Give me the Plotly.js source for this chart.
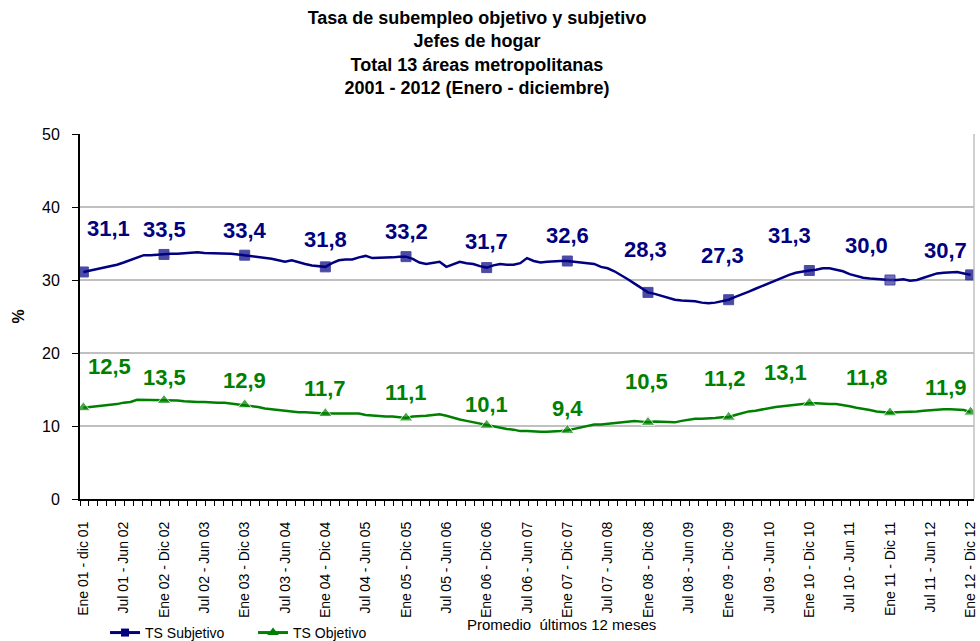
<!DOCTYPE html>
<html>
<head>
<meta charset="utf-8">
<script src="https://cdn.plot.ly/plotly-3.0.1.min.js"></script>
<style>html,body{margin:0;padding:0;background:#fff;}#chart{width:980px;height:641px;}</style>
</head>
<body>
<div id="chart"></div>
<script>
// Promedio últimos 12 meses, monthly, Ene01-dic01 ... Ene12-Dic12 (133 points)
const subjetivo = [
31.1,31.3,31.5,31.7,31.8,32.1,32.4,32.7,33.1,33.4,33.4,33.5,
33.5,33.6,33.6,33.7,33.7,33.8,33.7,33.7,33.6,33.7,33.6,33.5,
33.4,33.3,33.2,33.0,32.9,32.7,32.5,32.7,32.4,32.2,32.0,31.9,
31.8,32.3,32.7,32.8,32.8,33.1,33.3,33.0,33.0,33.0,33.1,33.2,
33.2,32.9,32.4,32.2,32.4,32.5,31.8,32.2,32.5,32.3,32.2,31.9,
31.7,32.0,32.2,32.1,32.1,32.3,33.0,32.6,32.4,32.5,32.6,32.6,
32.6,32.5,32.5,32.3,32.2,31.8,31.6,31.2,30.7,30.1,29.5,28.9,
28.3,28.1,27.8,27.5,27.3,27.2,27.2,27.1,26.9,26.8,26.9,27.1,
27.3,27.7,28.0,28.4,28.8,29.2,29.6,29.9,30.3,30.7,31.0,31.2,
31.3,31.4,31.6,31.6,31.4,31.2,30.8,30.5,30.3,30.2,30.1,30.0,
30.0,30.0,30.1,29.9,30.0,30.3,30.6,30.9,31.0,31.0,31.1,30.9,
30.7];
const objetivo = [
12.5,12.6,12.6,12.7,12.9,13.0,13.2,13.3,13.6,13.6,13.6,13.5,
13.5,13.6,13.5,13.4,13.3,13.3,13.3,13.2,13.2,13.2,13.1,13.0,
12.9,12.7,12.6,12.4,12.3,12.1,12.0,12.0,11.9,11.9,11.8,11.8,
11.7,11.7,11.7,11.6,11.6,11.7,11.5,11.4,11.4,11.3,11.3,11.2,
11.1,11.3,11.3,11.4,11.5,11.6,11.4,11.1,10.9,10.7,10.5,10.3,
10.1,9.9,9.8,9.6,9.5,9.3,9.3,9.2,9.2,9.2,9.2,9.3,
9.4,9.6,9.9,10.1,10.2,10.2,10.3,10.4,10.5,10.6,10.7,10.6,
10.5,10.6,10.6,10.6,10.5,10.7,10.9,11.0,11.0,11.0,11.1,11.2,
11.2,11.5,11.8,12.0,12.1,12.3,12.5,12.6,12.7,12.8,13.0,13.1,
13.1,13.1,13.0,13.0,13.0,12.9,12.7,12.5,12.4,12.2,12.0,11.9,
11.8,11.9,11.9,11.9,12.0,12.1,12.2,12.3,12.3,12.3,12.3,12.2,
11.9];
const tickLabels = [
"Ene 01 - dic 01","Jul 01 - Jun 02","Ene 02 - Dic 02","Jul 02 - Jun 03",
"Ene 03 - Dic 03","Jul 03 - Jun 04","Ene 04 - Dic 04","Jul 04 - Jun 05",
"Ene 05 - Dic 05","Jul 05 - Jun 06","Ene 06 - Dic 06","Jul 06 - Jun 07",
"Ene 07 - Dic 07","Jul 07 - Jun 08","Ene 08 - Dic 08","Jul 08 - Jun 09",
"Ene 09 - Dic 09","Jul 09 - Jun 10","Ene 10 - Dic 10","Jul 10 - Jun 11",
"Ene 11 - Dic 11","Jul 11 - Jun 12","Ene 12 - Dic 12"];
const seriesNames = ["TS Subjetivo","TS Objetivo"];

// ---- layout / styling ----
const BLUE = "#000080", GREEN = "#008000";
const FONT = "Liberation Sans, Arial, sans-serif";
const subjShift = [[25,43],[0,25],[0,25],[0,27],[0,25],[0,26],[0,26],[-2,43],[-6,44],[-20,35],[-23,35],[-25,24]];
const objShift  = [[26,41],[0,23],[0,24],[0,25],[0,25],[0,21],[0,22],[-1,41],[-4,39],[-24,31],[-23,35],[-25,25]];

const xIdx = subjetivo.map((_, i) => i);
const isAnnual = i => i % 12 === 0;
const tickVals = tickLabels.map((_, k) => k * 6);
const fmt = v => v.toFixed(1).replace('.', ',');

const subjMarkerColor = xIdx.map(i => i === 120 ? "#333399" : BLUE);

const traces = [
  {x: xIdx, y: subjetivo, mode: 'lines+markers', showlegend: false, hoverinfo: 'skip',
   line: {color: BLUE, width: 2.5},
   marker: {symbol: 'square', color: subjMarkerColor, size: xIdx.map(i => isAnnual(i) ? 10 : 0)}},
  {x: xIdx, y: objetivo, mode: 'lines+markers', showlegend: false, hoverinfo: 'skip',
   line: {color: GREEN, width: 2.5},
   marker: {symbol: 'triangle-up', color: GREEN, size: xIdx.map(i => isAnnual(i) ? 12 : 0)}},
  {x: [null], y: [null], mode: 'lines+markers', name: seriesNames[0],
   line: {color: BLUE, width: 3}, marker: {symbol: 'square', color: BLUE, size: 8}},
  {x: [null], y: [null], mode: 'lines+markers', name: seriesNames[1],
   line: {color: GREEN, width: 3}, marker: {symbol: 'triangle-up', color: GREEN, size: 10}}
];

const annotations = [];
let k = 0;
xIdx.forEach(i => {
  if (!isAnnual(i)) return;
  annotations.push({x: i, y: subjetivo[i], text: fmt(subjetivo[i]), showarrow: false,
    xanchor: 'center', yanchor: 'middle',
    xshift: subjShift[k][0], yshift: subjShift[k][1],
    font: {family: FONT, size: 22, color: BLUE, weight: 'bold'}});
  annotations.push({x: i, y: objetivo[i], text: fmt(objetivo[i]), showarrow: false,
    xanchor: 'center', yanchor: 'middle',
    xshift: objShift[k][0], yshift: objShift[k][1],
    font: {family: FONT, size: 22, color: GREEN, weight: 'bold'}});
  k++;
});
annotations.push({xref: 'paper', yref: 'paper', x: 0.539, y: -0.345, showarrow: false,
  xanchor: 'center', yanchor: 'middle',
  text: 'Promedio  últimos 12 meses', font: {family: FONT, size: 15, color: '#000'}});

const layout = {
  width: 980, height: 641,
  margin: {l: 80, r: 6, t: 134, b: 142, autoexpand: false},
  paper_bgcolor: '#fff', plot_bgcolor: '#fff',
  font: {family: FONT, color: '#000'},
  title: {text: '<b>Tasa de subempleo objetivo y subjetivo<br>Jefes de hogar<br>Total 13 áreas metropolitanas<br>2001 - 2012 (Enero - diciembre)</b>',
    x: 477/980, xanchor: 'center', yref: 'container', y: 1 - 24/641, yanchor: 'top',
    font: {family: FONT, size: 18, color: '#000'}},
  xaxis: {range: [-0.5, 132.5], tickvals: tickVals, ticktext: tickLabels, tickangle: -90,
    tickfont: {family: FONT, size: 14, color: '#000'}, ticks: '', showgrid: false, zeroline: false,
    automargin: false, ticklabelstandoff: 15,
    showline: true, linecolor: '#000', linewidth: 2,
    minor: {ticks: 'outside', ticklen: 5, tickcolor: '#000', tick0: -0.5, dtick: 4/3, showgrid: false}},
  yaxis: {range: [0, 50], dtick: 10, ticks: 'outside', ticklen: 6, tickcolor: '#000',
    tickfont: {family: FONT, size: 16, color: '#000'}, showline: true, linecolor: '#000', linewidth: 2,
    gridcolor: '#c0c0c0', gridwidth: 1.5, zeroline: false, automargin: false, ticklabelstandoff: 9,
    title: {text: '<b>%</b>', font: {family: FONT, size: 16, color: '#000'}, standoff: 13}},
  legend: {orientation: 'h', x: 0.028, xanchor: 'left', y: -0.367, yanchor: 'middle',
    entrywidth: 103, entrywidthmode: 'pixels',
    font: {family: FONT, size: 14, color: '#000'}, bgcolor: 'rgba(0,0,0,0)'},
  shapes: [{type: 'line', xref: 'paper', yref: 'paper', x0: 1, x1: 1, y0: 0, y1: 1,
    line: {color: '#c0c0c0', width: 1.5}}],
  annotations: annotations
};

Plotly.newPlot('chart', traces, layout, {staticPlot: true, displayModeBar: false});
</script>
</body>
</html>
